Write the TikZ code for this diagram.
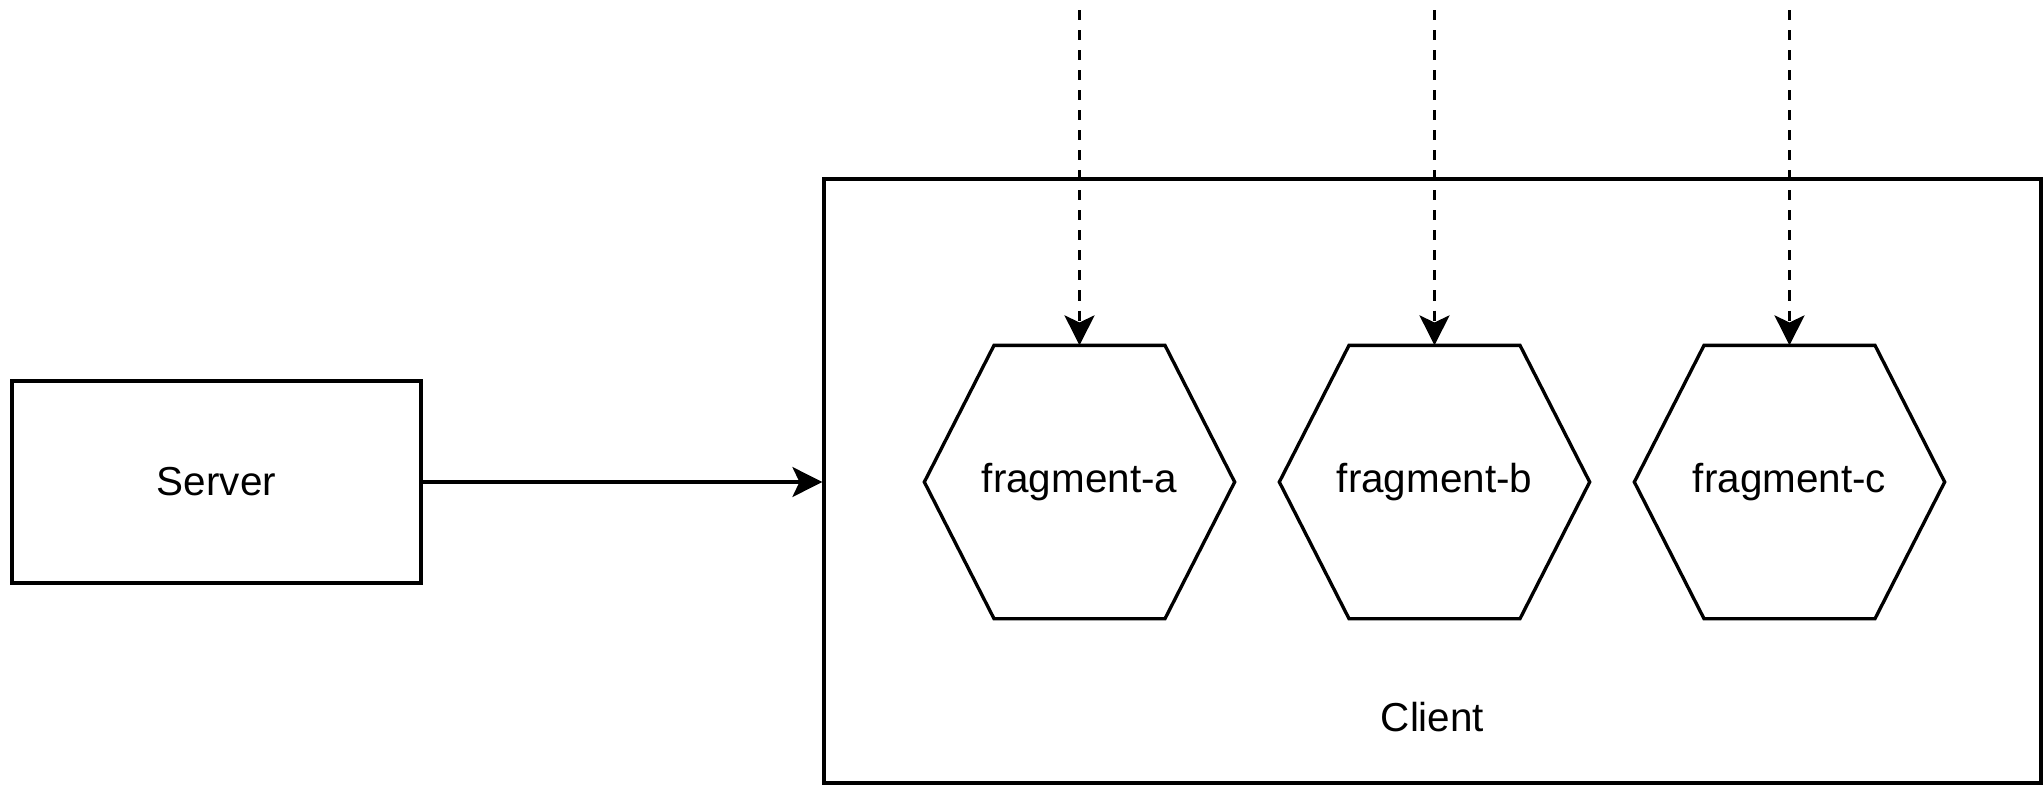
\documentclass[tikz,border=0pt]{standalone}
\usepackage{fontspec}
\setmainfont{Liberation Sans}
\usepackage{tikz}
\usetikzlibrary{shapes,arrows.meta,positioning}

\begin{document}
\begin{tikzpicture}[line width=0.95pt, >={Stealth[length=8.5pt, width=8.5pt, inset=2pt]}, font=\fontsize{11.5}{14}\selectfont]

    % Define block styles
    \tikzstyle{block} = [draw, rectangle]
    \tikzstyle{hexa} = [rectangle, minimum width=3.07cm, minimum height=2.70cm, inner sep=0pt]
    \tikzstyle{feed} = [->, line width=1.05pt, dash pattern=on 2.85pt off 2.85pt, dash phase=-2.85pt]

    \useasboundingbox (0,0) rectangle (20.43,7.84);
    \coordinate (top) at (0,7.84);

    % Server and client
    \node[block, minimum width=4.09cm, minimum height=2.02cm] (server) at (2.165,3.02) {Server};
    \node[block, minimum width=12.17cm, minimum height=6.04cm] (client) at (14.325,3.03) {};
    \node[above=0.39cm of client.south] (clientlabel) {Client};

    \draw[->] (server.east) -- (client.west |- server.east);

    % Fragments
    \node[hexa] (fraga) at (10.795,3.02) {fragment-a};
    \node[hexa] (fragb) at (14.345,3.02) {fragment-b};
    \node[hexa] (fragc) at (17.895,3.02) {fragment-c};

    % Hexagon outlines
    \foreach \f in {fraga,fragb,fragc}
        \draw (\f.west) -- ([xshift=-0.855cm]\f.north) -- ([xshift=0.855cm]\f.north)
            -- (\f.east) -- ([xshift=0.855cm]\f.south) -- ([xshift=-0.855cm]\f.south) -- cycle;

    \draw[feed] (fraga |- top) -- (fraga);
    \draw[feed] (fragb |- top) -- (fragb);
    \draw[feed] (fragc |- top) -- (fragc);

\end{tikzpicture}
\end{document}
